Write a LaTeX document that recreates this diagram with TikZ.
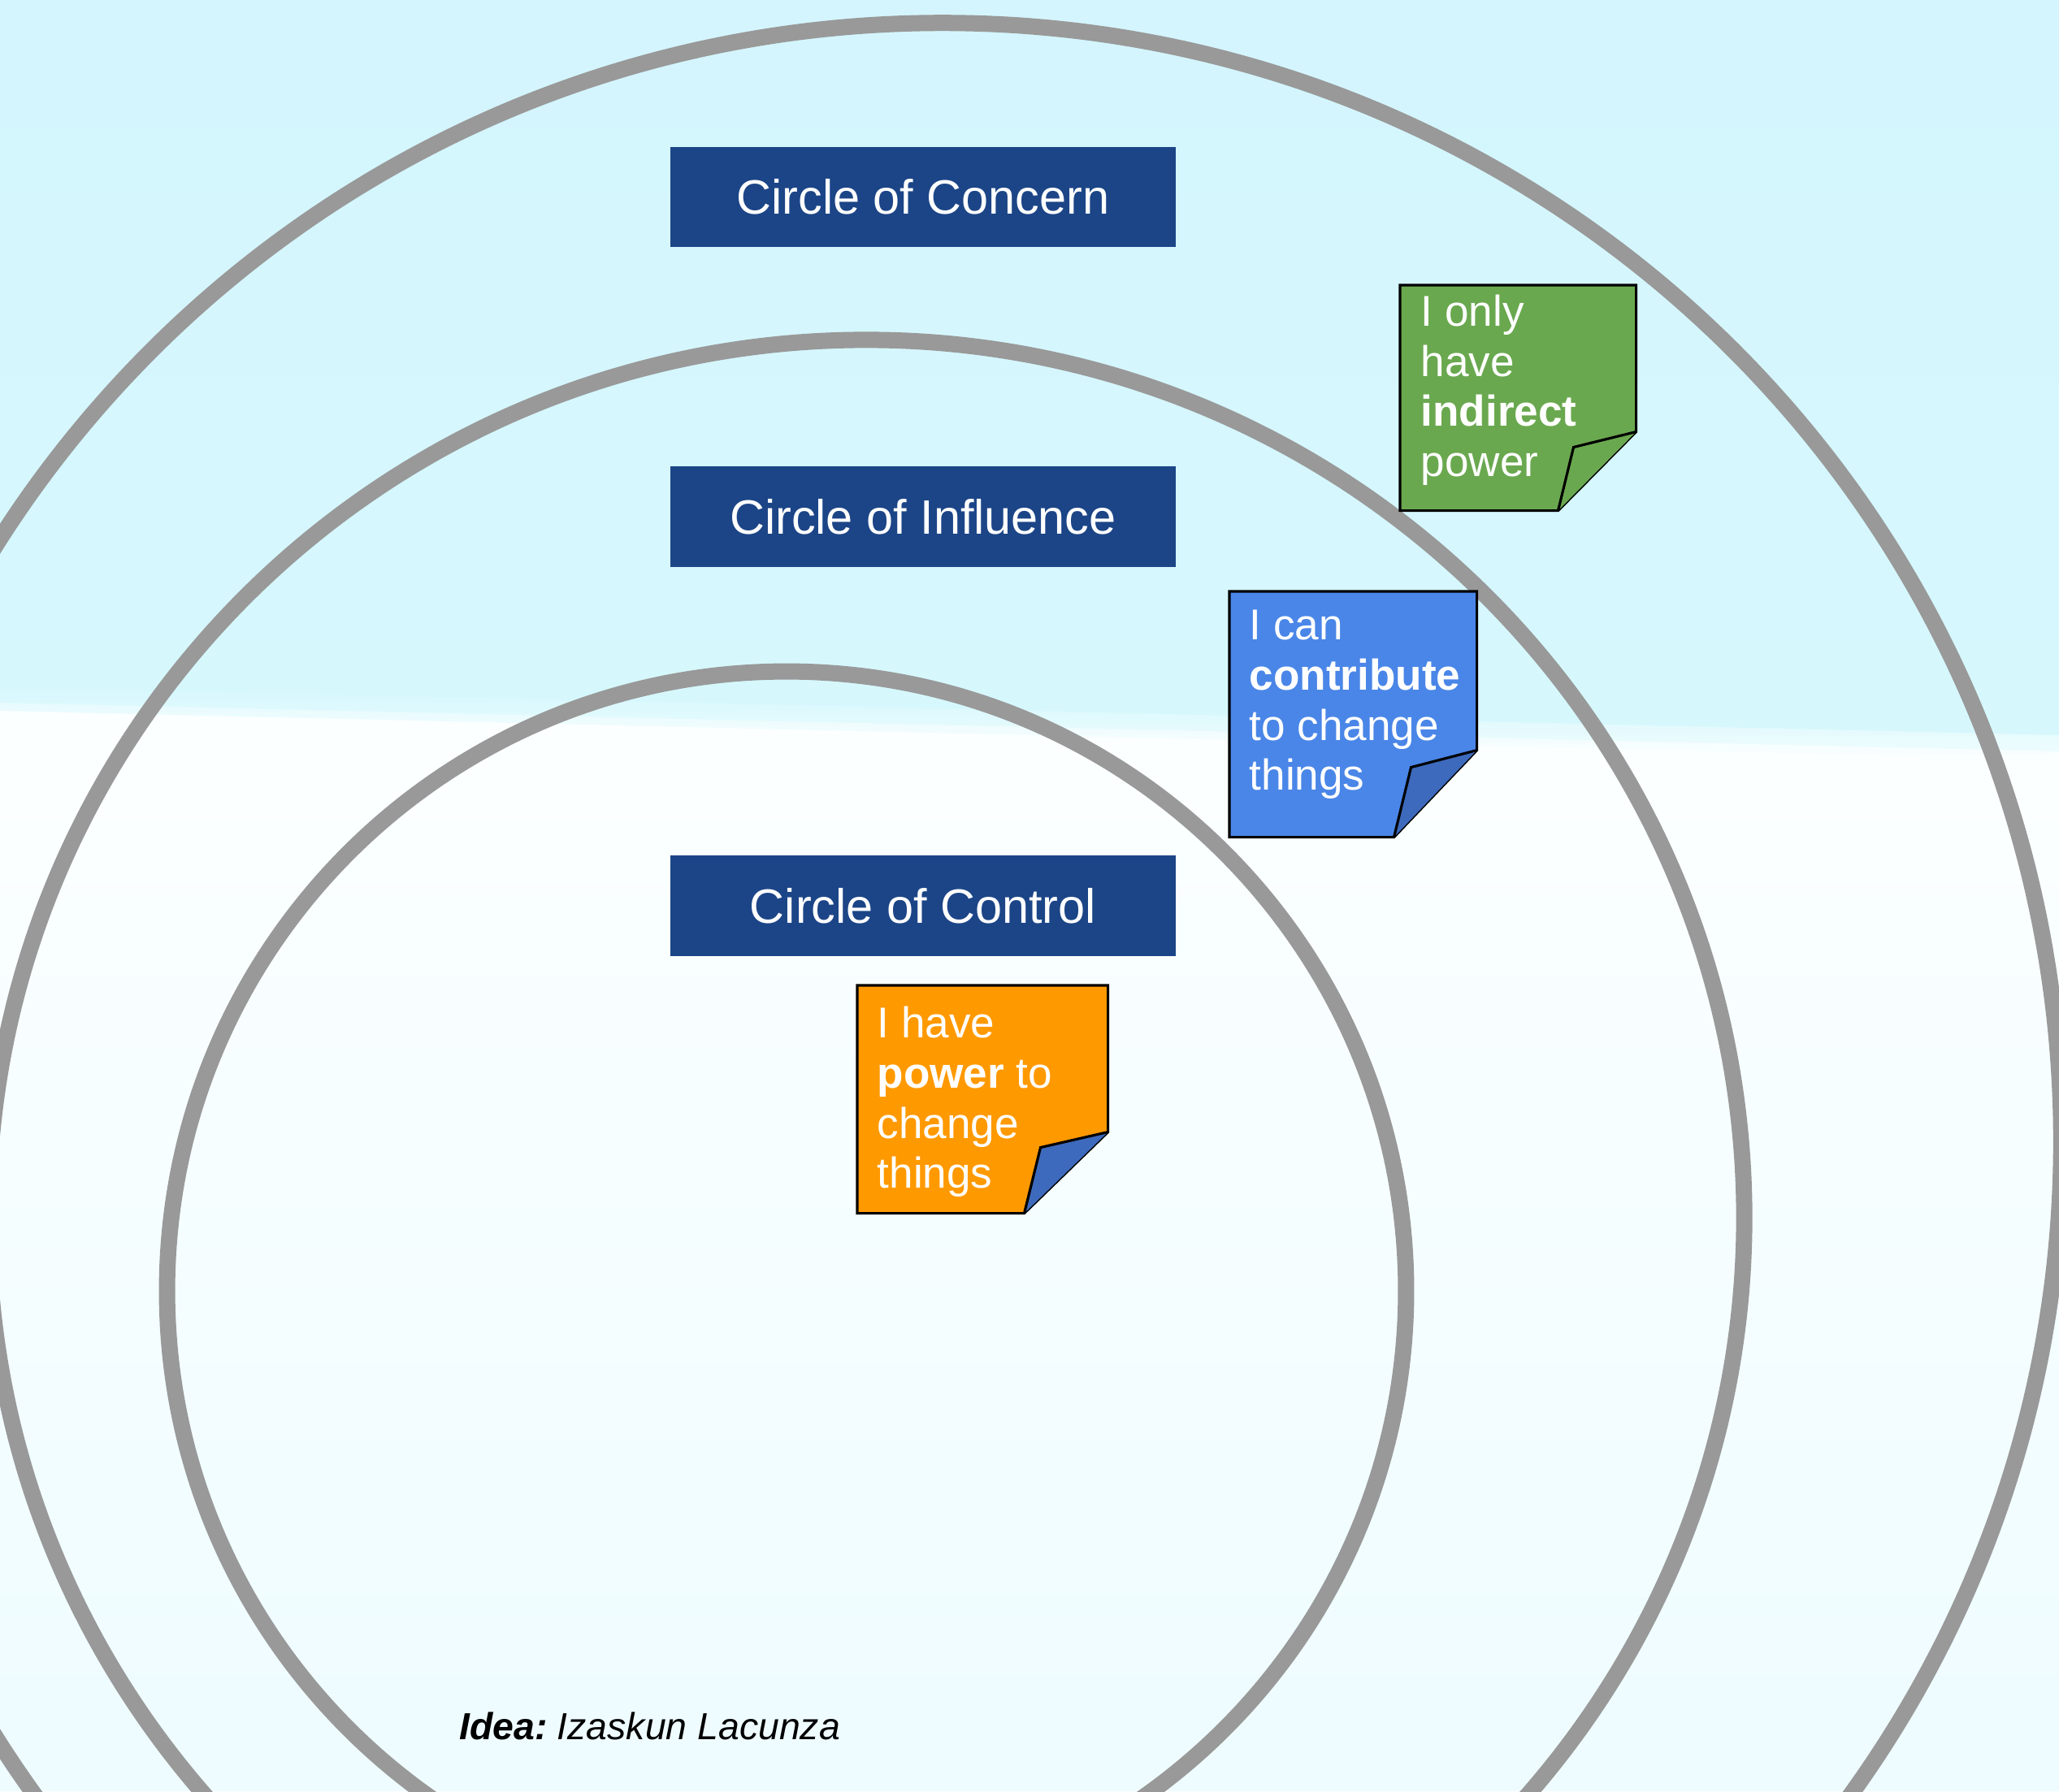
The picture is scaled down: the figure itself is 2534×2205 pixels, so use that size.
\documentclass[tikz,border=0pt]{standalone}
\usepackage{fontspec}
\setmainfont{Liberation Sans}

\definecolor{skytop}{RGB}{212,245,253}
\definecolor{skymid}{RGB}{214,248,253}
\definecolor{groundtop}{RGB}{252,255,255}
\definecolor{groundlow}{RGB}{238,252,255}
\definecolor{ringgray}{RGB}{153,153,153}
\definecolor{boxblue}{RGB}{28,69,135}
\definecolor{notegreen}{RGB}{106,168,79}
\definecolor{noteblue}{RGB}{74,134,232}
\definecolor{noteorange}{RGB}{255,153,0}
\definecolor{flapblue}{RGB}{61,106,188}

\begin{document}
\begin{tikzpicture}[x=0.01cm, y=-0.01cm,
    ring/.style={draw=ringgray, line width=0.2cm},
    circletitle/.style={fill=boxblue, text=white, minimum width=6.22cm, minimum height=1.23cm,
        inner sep=0pt, font=\fontsize{16.9}{20}\selectfont},
    notebox/.style={inner sep=0pt, anchor=north west},
    noteline/.style={draw=black, line width=0.9pt, line join=miter},
    notetext/.style={inner sep=0pt, anchor=north west, align=left, text=white,
        font=\fontsize{15.1}{17.6}\selectfont}]

    % Page size and background (sky above, pale ground below)
    \useasboundingbox (0,0) rectangle (2534,2205);
    \clip (0,0) rectangle (2534,2205);
    \shade[top color=skytop, bottom color=skymid] (0,0) rectangle (2534,940);
    \shade[top color=groundtop, bottom color=groundlow] (0,865) -- (2534,925) -- (2534,2205) -- (0,2205) -- cycle;
    % soft edge of the horizon
    \shade[top color=skymid, bottom color=groundtop, opacity=0.7] (0,845) -- (2534,905) -- (2534,935) -- (0,875) -- cycle;

    % The three circles
    \draw[ring] (1160,1405) circle[radius=13.76cm];
    \draw[ring] (1066,1499) circle[radius=10.80cm];
    \draw[ring] (968,1589) circle[radius=7.62cm];

    % Circle titles
    \node[circletitle] (concern) at (1136,242.5) {Circle of Concern};
    \node[circletitle] (influence) at (1136,636) {Circle of Influence};
    \node[circletitle] (control) at (1136,1115) {Circle of Control};

    % Green note (outer circle)
    \node[notebox, minimum width=2.89cm, minimum height=2.76cm] (indirect) at (1723,351) {};
    \draw[noteline, fill=notegreen] (indirect.north west) -- (indirect.north east)
        -- ([yshift=0.97cm]indirect.south east) -- ([xshift=-0.96cm]indirect.south east)
        -- (indirect.south west) -- cycle;
    \draw[noteline, fill=notegreen] ([yshift=0.97cm]indirect.south east)
        -- ([xshift=-0.77cm, yshift=0.78cm]indirect.south east) -- ([xshift=-0.96cm]indirect.south east);
    \node[notetext] (indirecttext) at ([xshift=0.25cm, yshift=-0.11cm]indirect.north west)
        {I only\\have\\\textbf{indirect}\\power};

    % Blue note (middle circle)
    \node[notebox, minimum width=3.03cm, minimum height=3.01cm] (contribute) at (1513,728) {};
    \draw[noteline, fill=noteblue] (contribute.north west) -- (contribute.north east)
        -- ([yshift=1.07cm]contribute.south east) -- ([xshift=-1.02cm]contribute.south east)
        -- (contribute.south west) -- cycle;
    \draw[noteline, fill=flapblue] ([yshift=1.07cm]contribute.south east)
        -- ([xshift=-0.81cm, yshift=0.86cm]contribute.south east) -- ([xshift=-1.02cm]contribute.south east);
    \node[notetext] (contributetext) at ([xshift=0.24cm, yshift=-0.22cm]contribute.north west)
        {I can\\\textbf{contribute}\\to change\\things};

    % Orange note (inner circle)
    \node[notebox, minimum width=3.07cm, minimum height=2.79cm] (power) at (1055,1213) {};
    \draw[noteline, fill=noteorange] (power.north west) -- (power.north east)
        -- ([yshift=1.00cm]power.south east) -- ([xshift=-1.03cm]power.south east)
        -- (power.south west) -- cycle;
    \draw[noteline, fill=flapblue] ([yshift=1.00cm]power.south east)
        -- ([xshift=-0.83cm, yshift=0.81cm]power.south east) -- ([xshift=-1.03cm]power.south east);
    \node[notetext] (powertext) at ([xshift=0.24cm, yshift=-0.25cm]power.north west)
        {I have\\\textbf{power} to\\change\\things};

    % Credit line
    \node[anchor=base west, inner sep=0pt, font=\fontsize{13.2}{15}\selectfont] (credit) at (565,2141)
        {\textbf{\textit{Idea:}}\hspace{0.25em}\textit{Izaskun Lacunza}};

\end{tikzpicture}
\end{document}
